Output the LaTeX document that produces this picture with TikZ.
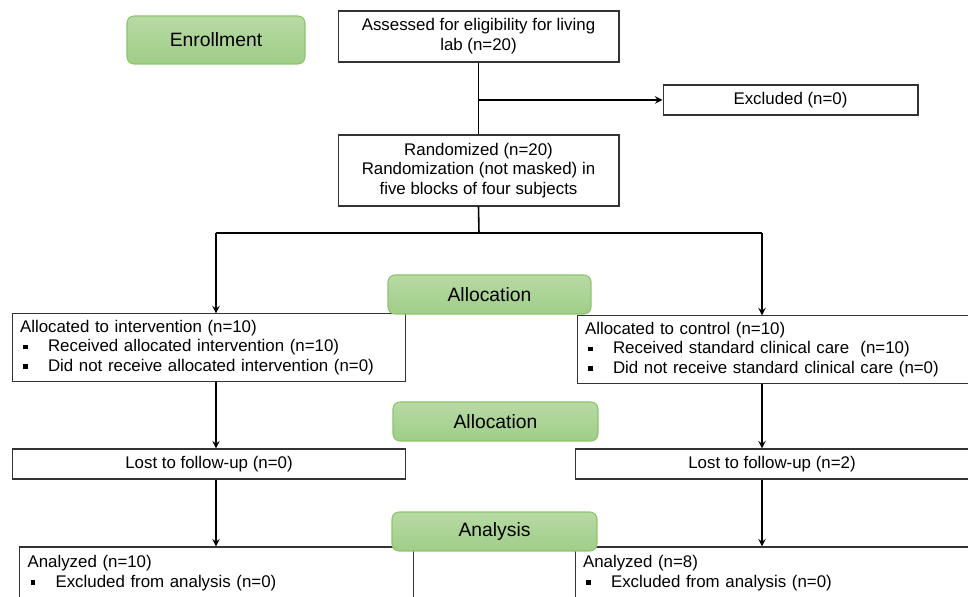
\documentclass[tikz,border=0pt]{standalone}
\usepackage{fontspec}
\setmainfont{Liberation Sans}
\usepackage{tikz}

\definecolor{phasetop}{RGB}{184,218,164}
\definecolor{phasebot}{RGB}{160,205,136}
\definecolor{phaseline}{RGB}{140,196,106}
\newcommand{\sqbul}{\raisebox{0.3ex}{\rule{2.6pt}{2.6pt}}}
\newcommand{\bulline}{\makebox[0.56cm][l]{\hspace{0.06cm}\sqbul}}

\begin{document}
\begin{tikzpicture}[x=0.02cm, y=-0.02cm,
	box/.style={rectangle, draw=black!80, line width=0.6pt, fill=white, inner xsep=0.16cm,
		font=\fontsize{9.6}{11.3}\selectfont},
	listbox/.style={box, minimum width=7.88cm, text width=7.56cm, align=left},
	phase/.style={rectangle, rounded corners=4pt, draw=phaseline, line width=0.6pt,
		top color=phasetop, bottom color=phasebot, font=\fontsize{11}{13}\selectfont},
	link/.style={line width=0.9pt}]
	
	\clip (0,0) rectangle (968,597);
	
	% Nodes
	\node[phase, minimum width=3.56cm, minimum height=0.96cm] (enroll) at (216,40) {Enrollment};
	\node[box, minimum width=5.62cm, minimum height=1.02cm, align=center] (assess) at (478.5,36.5)
		{Assessed for eligibility for living\\lab (n=20)};
	\node[box, minimum width=5.10cm, minimum height=0.60cm] (excl) at (790.5,100) {Excluded (n=0)};
	\node[box, minimum width=5.62cm, minimum height=1.42cm, align=center] (random) at (478.5,170.5)
		{Randomized (n=20)\\Randomization (not masked) in\\five blocks of four subjects};
	
	\node[listbox, minimum height=1.34cm] (allocint) at (209,347.5)
		{Allocated to intervention (n=10)\\
		\bulline Received allocated intervention (n=10)\\
		\bulline Did not receive allocated intervention (n=0)};
	\node[listbox, minimum height=1.34cm] (allocctl) at (774,349.5)
		{Allocated to control (n=10)\\
		\bulline Received standard clinical care\ \ (n=10)\\
		\bulline Did not receive standard clinical care (n=0)};
	
	\node[box, minimum width=7.88cm, minimum height=0.60cm] (lostint) at (209,464) {Lost to follow-up (n=0)};
	\node[box, minimum width=7.88cm, minimum height=0.60cm] (lostctl) at (772,464) {Lost to follow-up (n=2)};
	
	\node[listbox, minimum width=7.86cm, minimum height=1.04cm] (anaint) at (216.5,573)
		{Analyzed (n=10)\\
		\bulline Excluded from analysis (n=0)};
	\node[listbox, minimum height=1.04cm] (anactl) at (772,573)
		{Analyzed (n=8)\\
		\bulline Excluded from analysis (n=0)};
	
	% Phase labels
	\node[phase, minimum width=4.06cm, minimum height=0.78cm] (alloc1) at (489.5,294.5) {Allocation};
	\node[phase, minimum width=4.10cm, minimum height=0.78cm] (alloc2) at (495.5,421.5) {Allocation};
	\node[phase, minimum width=4.10cm, minimum height=0.78cm] (analysis) at (494.5,531.5) {Analysis};
	
	% Junctions
	\coordinate (exclsplit) at (479,100);
	\coordinate (split) at (479,233);
	\coordinate (lsplit) at (216,233);
	\coordinate (rsplit) at (762,233);
	
	% Edges
	\draw[link] (assess.south) -- (random.north);
	\draw[link, ->, >=stealth] (exclsplit) -- (excl.west);
	\draw[link] (random.south) -- (split);
	\draw[link] (lsplit) -- (rsplit);
	\draw[link, ->, >=stealth] (lsplit) -- (lsplit |- allocint.north);
	\draw[link, ->, >=stealth] (rsplit) -- (rsplit |- allocctl.north);
	\draw[link, ->, >=stealth] (lsplit |- allocint.south) -- (lsplit |- lostint.north);
	\draw[link, ->, >=stealth] (rsplit |- allocctl.south) -- (rsplit |- lostctl.north);
	\draw[link, ->, >=stealth] (lsplit |- lostint.south) -- (lsplit |- anaint.north);
	\draw[link, ->, >=stealth] (rsplit |- lostctl.south) -- (rsplit |- anactl.north);
\end{tikzpicture}
\end{document}
